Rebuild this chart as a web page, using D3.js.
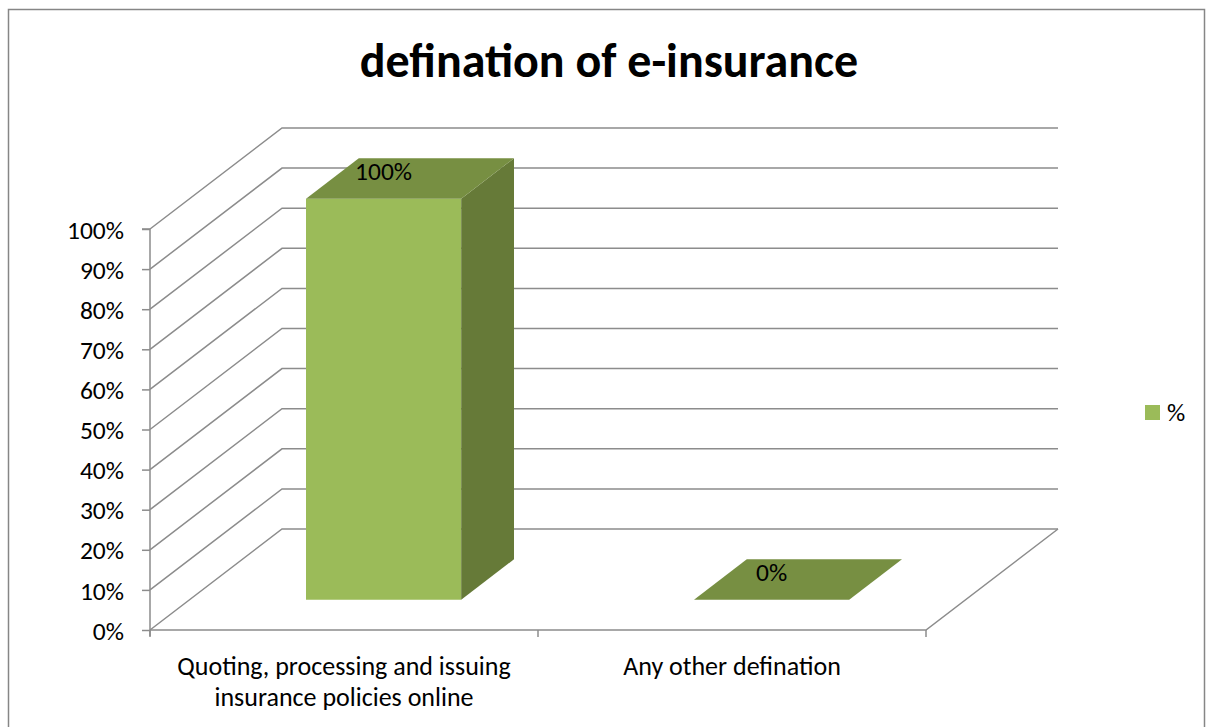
<!DOCTYPE html>
<html>
<head>
<meta charset="utf-8">
<script src="https://cdn.jsdelivr.net/npm/d3@7/dist/d3.min.js"></script>
<style>
  html, body { margin: 0; padding: 0; background: #fff; }
  svg { display: block; }
  text { font-family: Carlito, Lato, "Liberation Sans", sans-serif; fill: #000; }
</style>
</head>
<body>
<svg id="chart" width="1206" height="727"></svg>
<script>
// Chart data
const categories = ["Quoting, processing and issuing insurance policies online", "Any other defination"];
const categoryLines = [["Quoting, processing and issuing", "insurance policies online"], ["Any other defination"]];
const values = [1.0, 0.0];
const valueLabels = ["100%", "0%"];
const yTicks = [0, 0.1, 0.2, 0.3, 0.4, 0.5, 0.6, 0.7, 0.8, 0.9, 1.0];
const seriesName = "%";
const titleText = "defination of e-insurance";

const svg = d3.select("#chart");

// Layout of the 3D plot box
const plotLeft = 150, plotRight = 926, plotBottom = 630, plotTop = 229;
const depthX = 132, depthY = -101;     // offset of the back wall
const barT0 = 0.3, barT1 = 0.7;        // depth span occupied by the columns
const gridColor = "#8c8c8c";
const smallFont = "25.5px", catFont = "26px";

const y = d3.scaleLinear().domain([0, 1]).range([plotBottom, plotTop]);
const x = d3.scaleBand().domain(categories).range([plotLeft, plotRight]).padding(0);
const fmt = d3.format(".0%");

// Chart frame
svg.append("rect")
  .attr("x", 8.5).attr("y", 9.5).attr("width", 1196).attr("height", 730)
  .attr("fill", "#fff").attr("stroke", "#868686").attr("stroke-width", 1.5);

// Title
svg.append("text")
  .attr("x", 609).attr("y", 77)
  .attr("text-anchor", "middle")
  .style("font-size", "48px").style("font-weight", "bold")
  .text(titleText);

// Gridlines: side wall diagonals + back wall horizontals
const grid = svg.append("g").attr("fill", "none").attr("stroke", gridColor).attr("stroke-width", 1.5);
yTicks.forEach(t => {
  const yy = y(t);
  grid.append("path")
    .attr("d", `M${plotLeft},${yy} L${plotLeft + depthX},${yy + depthY} L${plotRight + depthX},${yy + depthY}`);
});
// Floor outline
grid.append("path")
  .attr("d", `M${plotLeft},${plotBottom} L${plotRight},${plotBottom} L${plotRight + depthX},${plotBottom + depthY}`);

// Value axis
const yAxis = d3.axisLeft(y).tickValues(yTicks).tickFormat(fmt).tickSize(8).tickPadding(18);
const yg = svg.append("g").attr("transform", `translate(${plotLeft},0)`).call(yAxis);
yg.select(".domain").attr("stroke", gridColor).attr("stroke-width", 1.5)
  .attr("d", `M-8,${plotTop}H0V${plotBottom + 6}`);
yg.selectAll(".tick line").attr("stroke", gridColor).attr("stroke-width", 1.5);
yg.selectAll(".tick text").style("font-size", smallFont)
  .style("font-family", "Carlito, Lato, 'Liberation Sans', sans-serif")
  .attr("fill", "#000").attr("dy", "0.36em");

// Category axis ticks
const catTicks = [plotLeft, ...categories.map(c => x(c) + x.bandwidth())];
svg.append("g").selectAll("line").data(catTicks).join("line")
  .attr("x1", d => d).attr("x2", d => d)
  .attr("y1", plotBottom).attr("y2", plotBottom + 7)
  .attr("stroke", gridColor).attr("stroke-width", 1.5);

// Category labels
const catG = svg.append("g");
categories.forEach((c, i) => {
  const cx = x(c) + x.bandwidth() / 2;
  const t = catG.append("text").attr("text-anchor", "middle").style("font-size", catFont);
  categoryLines[i].forEach((line, j) => {
    t.append("tspan").attr("x", cx).attr("y", 675 + j * 31).text(line);
  });
});

// Columns
const barW = x.bandwidth() * 0.4;
const fx = depthX * barT0, fy = depthY * barT0;
const dx = depthX * (barT1 - barT0), dy = depthY * (barT1 - barT0);
const bars = svg.append("g");
categories.forEach((c, i) => {
  const x0 = x(c) + (x.bandwidth() - barW) / 2 + fx;
  const x1 = x0 + barW;
  const yb = y(0) + fy;
  const yt = y(values[i]) + fy;
  if (yb - yt > 0.5) {
    // front face
    bars.append("path").attr("fill", "#9bbb59")
      .attr("d", `M${x0},${yb} L${x1},${yb} L${x1},${yt} L${x0},${yt} Z`);
    // side face
    bars.append("path").attr("fill", "#667a38")
      .attr("d", `M${x1},${yb} L${x1 + dx},${yb + dy} L${x1 + dx},${yt + dy} L${x1},${yt} Z`);
  }
  // top face
  bars.append("path").attr("fill", "#778f42")
    .attr("d", `M${x0},${yt} L${x1},${yt} L${x1 + dx},${yt + dy} L${x0 + dx},${yt + dy} Z`);
  // data label
  bars.append("text")
    .attr("x", (x0 + x1) / 2).attr("y", yt - 19)
    .attr("text-anchor", "middle").style("font-size", smallFont)
    .text(valueLabels[i]);
});

// Legend
const lg = svg.append("g").attr("transform", "translate(1145,405)");
lg.append("rect").attr("width", 15).attr("height", 15).attr("fill", "#9bbb59");
lg.append("text").attr("x", 22).attr("y", 16).style("font-size", smallFont).text(seriesName);
</script>
</body>
</html>
